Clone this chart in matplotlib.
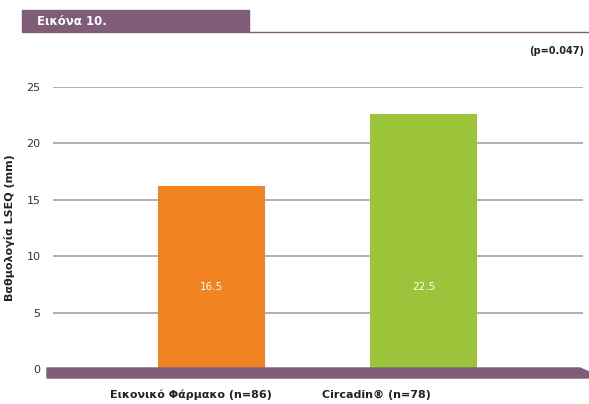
import matplotlib.pyplot as plt
from matplotlib.patches import Polygon, Rectangle
from matplotlib.lines import Line2D

# data
groups = ["Εικονικό Φάρμακο (n=86)", "Circadin® (n=78)"]
heights = [16.2, 22.6]
value_labels = ["16.5", "22.5"]
bar_colors = ["#f28322", "#9bc43a"]
yticks = [0, 5, 10, 15, 20, 25]

purple = "#7f5c78"
grid_col = "#b9a9b7"

W, H = 589, 404
fig = plt.figure(figsize=(W / 100, H / 100), dpi=100)

def fx(px):
    return px / W

def fy(py):
    return 1 - py / H

# axes: x 53..583 px, y 369 (0) .. 87 (25)
ax = fig.add_axes([fx(53), fy(369), fx(583) - fx(53), fy(87) - fy(369)])
ax.set_xlim(-0.748, 1.752)
ax.set_ylim(0, 25)

for v in yticks[1:]:
    ax.axhline(v, color=grid_col, lw=1.4, zorder=1)

pos = list(range(len(groups)))
ax.bar(pos, heights, width=0.505, color=bar_colors, zorder=2)
for p, lab in zip(pos, value_labels):
    ax.text(p, 7.3, lab, color="white", ha="center", va="center", fontsize=7.5, zorder=3)

for s in ax.spines.values():
    s.set_visible(False)
ax.set_yticks(yticks)
ax.set_yticklabels([str(t) for t in yticks], fontsize=8, color="#333333")
ax.tick_params(axis="y", length=0, pad=9)
ax.set_xticks([-0.097, 0.776])
ax.set_xticklabels(groups, fontsize=8, fontweight="bold", color="#222222")
ax.tick_params(axis="x", length=0, pad=15)
ax.set_ylabel("Βαθμολογία LSEQ (mm)", fontsize=8, fontweight="bold", color="#222222", labelpad=8)

# base bar with slanted end
base = Polygon([[fx(47), fy(368)], [fx(580), fy(368)], [fx(589), fy(372)],
                [fx(589), fy(378)], [fx(47), fy(378)]],
               closed=True, transform=fig.transFigure, color=purple, zorder=5)
fig.patches.append(base)

# header
fig.patches.append(Rectangle((fx(22), fy(32)), fx(249) - fx(22), fy(10) - fy(32),
                             transform=fig.transFigure, color=purple))
fig.lines.append(Line2D([fx(249), fx(589)], [fy(32), fy(32)], transform=fig.transFigure,
                        color=purple, lw=1))
fig.text(fx(37), fy(21.5), "Εικόνα 10.", color="white", fontsize=8.5, fontweight="bold",
         va="center", ha="left")
fig.text(fx(584), fy(51), "(p=0.047)", color="#222222", fontsize=7, fontweight="bold",
         va="center", ha="right")

fig.savefig("out.png", dpi=100)
